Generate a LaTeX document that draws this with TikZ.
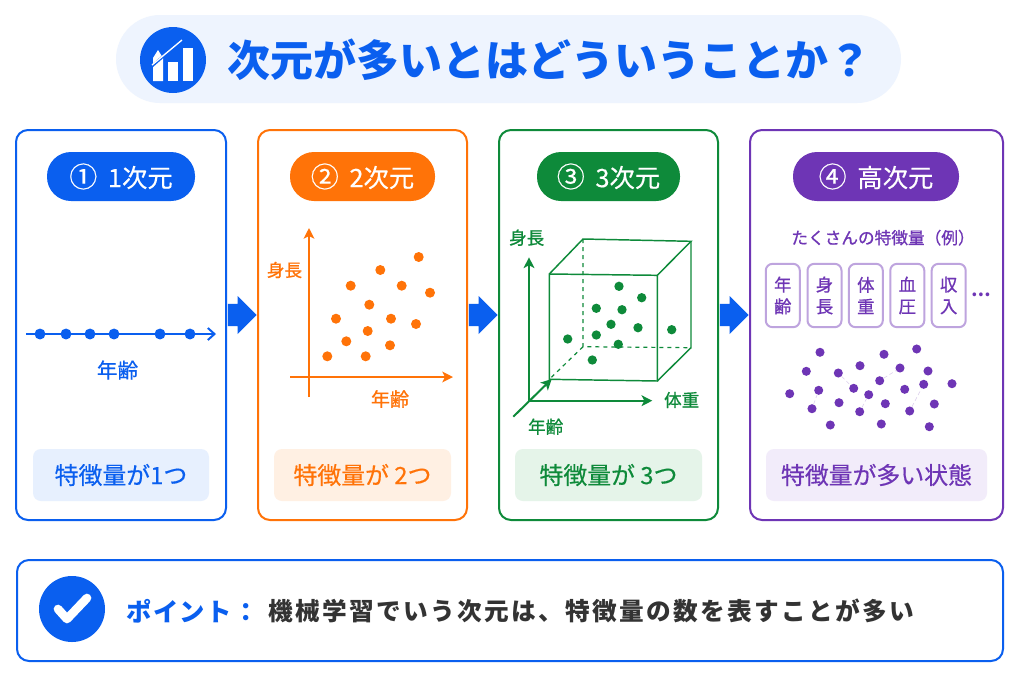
\documentclass[tikz,border=0pt]{standalone}
\usepackage{fontspec}
\setmainfont{Noto Sans CJK JP}
\newfontfamily\medfont[FakeBold=0.4]{Noto Sans CJK JP}
\newfontfamily\labelfont[FakeBold=0.8]{Noto Sans CJK JP}
\newfontfamily\pointfont[LetterSpace=9.5]{Noto Sans CJK JP}
\newfontfamily\markfont[LetterSpace=5]{Noto Sans CJK JP}
\usetikzlibrary{positioning,shapes.arrows,arrows.meta}
\definecolor{myblue}{HTML}{0A5FEF}
\definecolor{myorange}{HTML}{FF7308}
\definecolor{mygreen}{HTML}{0E8A3A}
\definecolor{mypurple}{HTML}{6E35B5}
\definecolor{bluefill}{HTML}{E7F0FE}
\definecolor{orangefill}{HTML}{FFF0E3}
\definecolor{greenfill}{HTML}{E5F4E9}
\definecolor{purplefill}{HTML}{F2ECFA}
\definecolor{titlefill}{HTML}{EEF4FE}
\def\headtext#1#2{{\fontsize{21}{21}\selectfont #1}\hspace{8pt}#2}

\begin{document}
\begin{tikzpicture}[x=0.75pt, y=-0.75pt]
    \tikzset{
        panel/.style={draw=#1, line width=1.5pt, rounded corners=9pt},
        headpill/.style={fill=#1, rounded corners=18pt, text=white, inner sep=0pt, minimum height=36.75pt, font=\fontsize{19}{19}\medfont},
        footbox/.style={rounded corners=6pt, inner sep=0pt, minimum height=39pt, font=\fontsize{17.9}{18}\medfont},
        datapoint/.style={circle, fill=#1, inner sep=0pt, minimum size=8.2pt},
        axisline/.style={draw=#1, line width=1.5pt, -{Stealth[length=8pt,width=8pt,inset=2pt]}},
        axislabel/.style={font=\fontsize{13.2}{13.2}\labelfont},
        stepmark/.style={single arrow, anchor=tip, fill=myblue, inner sep=0pt, minimum height=21.5pt, minimum width=28.5pt, single arrow head extend=5pt, single arrow head indent=0pt},
        featbox/.style={draw=mypurple!45, line width=1.5pt, rounded corners=5pt, inner sep=0pt, minimum width=25.5pt, minimum height=47.5pt, text=mypurple, align=center, font=\fontsize{13}{16.3}\labelfont},
        cubeedge/.style={draw=mygreen, line width=1.1pt},
        cubeback/.style={draw=mygreen, line width=0.9pt, dashed}
    }

    \useasboundingbox (0,0) rectangle (1024,683);
    \fill[white] (0,0) rectangle (1024,683);

    % title
    \fill[titlefill, rounded corners=33pt] (116,15) rectangle (901,103);
    \fill[myblue] (173,60) circle (33*0.75pt);
    \fill[white] (153,81) -- (153,58) -- (158,50) -- (163,58) -- (163,81) -- cycle;
    \fill[white] (168,81) rectangle (178,62);
    \fill[white] (183,81) rectangle (193,48);
    \draw[myblue, line width=2pt] (151,67) -- (183,39);
    \draw[white, line width=1pt] (152,65) -- (182,40);
    \node[text=myblue, font=\fontsize{32.2}{33}\selectfont\bfseries, anchor=west] (title) at (223,60) {次元が多いとはどういうことか？};

    % panels
    \draw[panel=myblue] (16,130) rectangle (226,520);
    \draw[panel=myorange] (258,130) rectangle (467,520);
    \draw[panel=mygreen] (499,130) rectangle (718,520);
    \draw[panel=mypurple] (750,130) rectangle (1003,520);

    \node[stepmark] (arrowa) at (257,315) {\rule{0pt}{13.5pt}};
    \node[stepmark] (arrowb) at (498,315) {\rule{0pt}{13.5pt}};
    \node[stepmark] (arrowc) at (749,315) {\rule{0pt}{13.5pt}};

    % heads
    \node[headpill=myblue, minimum width=111pt] (heada) at (121,176.5) {\headtext{①}{1次元}};
    \node[headpill=myorange, minimum width=108.75pt] (headb) at (362.5,176.5) {\headtext{②}{2次元}};
    \node[headpill=mygreen, minimum width=107.25pt] (headc) at (608.5,176.5) {\headtext{③}{3次元}};
    \node[headpill=mypurple, minimum width=124.5pt] (headd) at (876,176.5) {\headtext{④}{高次元}};

    % footers
    \node[footbox, fill=bluefill, text=myblue, minimum width=132pt] (foota) at (121,475) {特徴量が1つ};
    \node[footbox, fill=orangefill, text=myorange, minimum width=132.75pt] (footb) at (362.5,475) {特徴量が 2つ};
    \node[footbox, fill=greenfill, text=mygreen, minimum width=140.25pt] (footc) at (608.5,475) {特徴量が 3つ};
    \node[footbox, fill=purplefill, text=mypurple, minimum width=165.75pt] (footd) at (876.5,475) {特徴量が多い状態};

    % 1D
    \begin{scope}
        \coordinate (linea) at (26,334);
        \coordinate (lineb) at (216,334);
        \draw[draw=myblue, line width=1.5pt, -{Straight Barb[length=5pt,width=9pt]}] (linea) -- (lineb);
        \foreach \x in {40,66,90,114,160,190} {
            \node[datapoint=myblue] at (\x,334) {};
        }
        \node[text=myblue, font=\fontsize{15.5}{15.5}\medfont] (agea) at (117.5,370) {年齢};
    \end{scope}

    % 2D
    \begin{scope}
        \coordinate (ytop) at (309,228);
        \coordinate (ybot) at (309,397);
        \coordinate (xleft) at (290,377);
        \coordinate (xright) at (453,377);
        \draw[axisline=myorange] (ybot) -- (ytop);
        \draw[axisline=myorange] (xleft) -- (xright);
        \foreach \x/\y in {418.7/257,380.3/270,350.7/285.7,401.7/285.7,430/292.7,369.3/304.7,336/318.7,391/318.7,416/324,367.7/331,346.3/341.3,390/345.3,327.3/356.3,365.7/356.3} {
            \node[datapoint=myorange, minimum size=7.5pt] at (\x,\y) {};
        }
        \node[axislabel, text=myorange] (heightb) at (284.5,270) {身長};
        \node[text=myorange, font=\fontsize{14.3}{14.3}\labelfont] (ageb) at (390,399) {年齢};
    \end{scope}

    % 3D
    \begin{scope}
        \coordinate (o) at (529,400.7);
        \coordinate (zend) at (551.7,379);
        \coordinate (ztail) at (513.3,416.7);
        \coordinate (ytop) at (529,257.3);
        \coordinate (xright) at (652.3,400.7);
        \coordinate (fa) at (549.3,274);
        \coordinate (fb) at (657.3,275.3);
        \coordinate (fc) at (657.3,381);
        \coordinate (fd) at (549.3,379.3);
        \coordinate (ba) at (583,239);
        \coordinate (bb) at (691,241.3);
        \coordinate (bc) at (691,347.7);
        \coordinate (bd) at (583,346.7);
        \draw[cubeedge] (fa) -- (fb) -- (fc) -- (fd) -- cycle;
        \draw[cubeedge] (fa) -- (ba) -- (bb) -- (fb);
        \draw[cubeedge] (bb) -- (bc) -- (fc);
        \draw[cubeback] (ba) -- (bd) -- (bc);
        \draw[cubeback] (bd) -- (fd);
        \draw[axisline=mygreen] (o) -- (ytop);
        \draw[axisline=mygreen] (o) -- (xright);
        \draw[axisline=mygreen] (ztail) -- (zend);
        \foreach \x/\y in {619/286.3,641.7/297.7,596.3/308.3,622/309.7,611/324.3,638/327.7,671.7/329.7,567.7/339,596.3/335,618.3/344.3,592.3/360} {
            \node[datapoint=mygreen, minimum size=7pt] at (\x,\y) {};
        }
        \node[axislabel, text=mygreen] (heightc) at (526.7,237.7) {身長};
        \node[axislabel, text=mygreen] (weightc) at (681.7,400) {体重};
        \node[axislabel, text=mygreen] (agec) at (545.7,426.7) {年齢};
    \end{scope}

    % many dimensions
    \begin{scope}
        \node[text=mypurple, font=\fontsize{12.5}{13}\labelfont] (manylabel) at (883,237.7) {たくさんの特徴量（例）};
        \node[featbox] (feata) at (782.8,295.5) {年\\齢};
        \node[featbox] (featb) at (824.5,295.5) {身\\長};
        \node[featbox] (featc) at (865.8,295.5) {体\\重};
        \node[featbox] (featd) at (907.3,295.5) {血\\圧};
        \node[featbox] (feate) at (948.7,295.5) {収\\入};
        \node[text=mypurple, font=\fontsize{13}{13}\selectfont\bfseries] (more) at (981.7,295) {…};
        \foreach \x/\y [count=\i] in {820/352.3,884/354.3,916.7/349,806.3/371.3,838.3/373,860/365.7,900/368,928/371,879.7/380.7,923.7/384.3,952/383.7,789.7/393.7,818.7/390.3,853.7/388.3,868.7/394.7,904.7/389.3,812/408.7,839/402.7,859.7/411.7,885.3/403.7,909.7/411,934.3/404,830.3/425,881.3/424,929.3/426.7} {
            \node[datapoint=mypurple, minimum size=6.8pt] (dot\i) at (\x,\y) {};
        }
        \draw[mypurple!25, densely dashed] (dot5) -- (dot14);
        \draw[mypurple!25, densely dashed] (dot9) -- (dot7);
        \draw[mypurple!25, densely dashed] (dot17) -- (dot13);
        \draw[mypurple!25, densely dashed] (dot19) -- (dot15);
        \draw[mypurple!25, densely dashed] (dot21) -- (dot10);
    \end{scope}

    % point
    \draw[panel=myblue] (17,560) rectangle (1003,661);
    \fill[myblue] (72,609) circle (33*0.75pt);
    \draw[white, line width=6.5pt, line cap=round, line join=round] (58,609) -- (67,619) -- (87,598);
    \node[text=myblue, font=\fontsize{19}{19}\markfont\bfseries, anchor=west] (pointlabel) at (122,611) {ポイント：};
    \node[text=black!80, font=\fontsize{18.5}{19}\pointfont\bfseries, anchor=west] (pointtext) at (264,611) {機械学習でいう次元は、特徴量の数を表すことが多い};
\end{tikzpicture}
\end{document}
